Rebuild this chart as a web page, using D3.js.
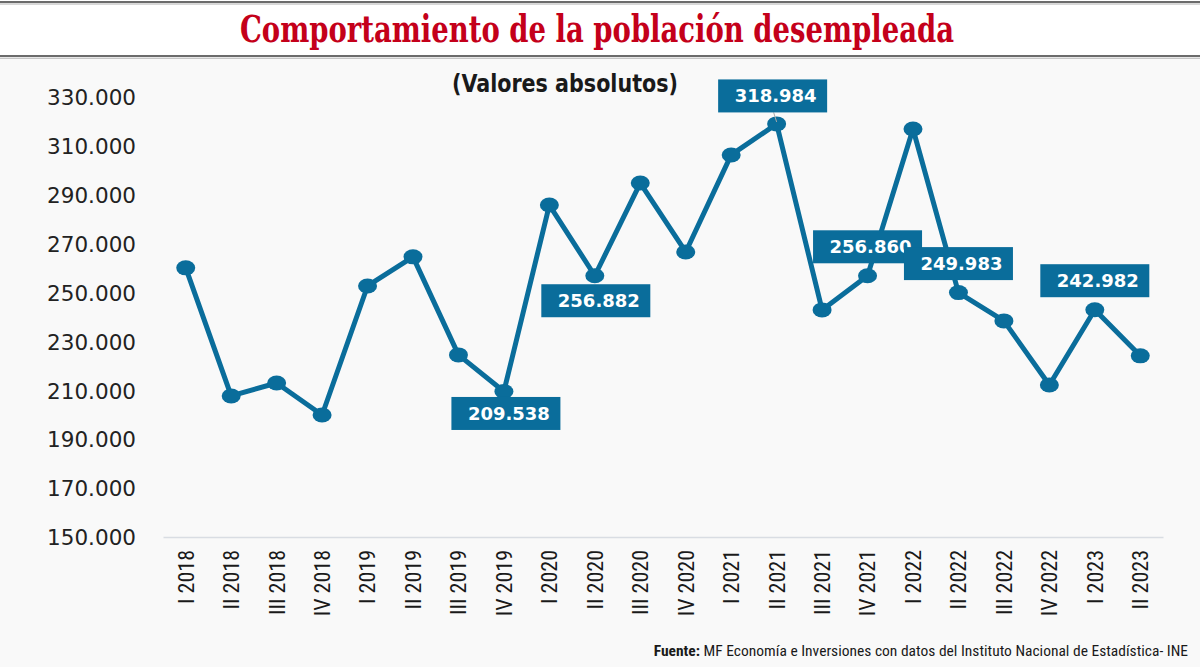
<!DOCTYPE html>
<html>
<head>
<meta charset="utf-8">
<script src="https://cdn.jsdelivr.net/npm/d3@7"></script>
<style>
  html, body { margin: 0; padding: 0; background: #ffffff; }
  svg { display: block; }
</style>
</head>
<body>
<svg id="chart" width="1200" height="667"></svg>
<script>
// ---------- DATA ----------
const categories = [
  "I 2018", "II 2018", "III 2018", "IV 2018",
  "I 2019", "II 2019", "III 2019", "IV 2019",
  "I 2020", "II 2020", "III 2020", "IV 2020",
  "I 2021", "II 2021", "III 2021", "IV 2021",
  "I 2022", "II 2022", "III 2022", "IV 2022",
  "I 2023", "II 2023"
];
const unemployed = [
  260100, 207700, 213000, 199900,
  252700, 264600, 224500, 209538,
  285800, 256882, 294800, 266600,
  306300, 318984, 242900, 256860,
  316900, 249983, 238400, 212200,
  242982, 224100
];
const yTicks = [150000, 170000, 190000, 210000, 230000, 250000, 270000, 290000, 310000, 330000];
const labelledPoints = ["II 2021", "II 2020", "IV 2019", "IV 2021", "II 2022", "I 2023"];

const titleText = "Comportamiento de la población desempleada";
const subtitleText = "(Valores absolutos)";
const sourceBold = "Fuente:";
const sourceText = " MF Economía e Inversiones con datos del Instituto Nacional de Estadística- INE";

// ---------- LAYOUT / STYLE ----------
const W = 1200, H = 667;
const blue = "#0a6d9b";
const fmt = v => d3.format(",")(v).replace(/,/g, ".");

// label placement relative to its point (pixels)
const labelOffsets = {
  "II 2021": { dx: -4, dy: -28, leader: true },
  "II 2020": { dx: 1, dy: 25 },
  "IV 2019": { dx: 2, dy: 22 },
  "IV 2021": { dx: 0, dy: -29 },
  "II 2022": { dx: 0, dy: -29 },
  "I 2023":  { dx: 0, dy: -29 }
};

const svg = d3.select("#chart");

// backgrounds
svg.append("rect").attr("x", 0).attr("y", 0).attr("width", W).attr("height", H).attr("fill", "#f9f9f9");
svg.append("rect").attr("x", 0).attr("y", 0).attr("width", W).attr("height", 58).attr("fill", "#ffffff");
// title band borders (double lines)
[[2, "#3a3a3a", 1.6], [4, "#b0b0b0", 1], [56, "#3a3a3a", 1.6], [58.2, "#b0b0b0", 1]].forEach(([y, c, w]) => {
  svg.append("line").attr("x1", 0).attr("x2", W).attr("y1", y).attr("y2", y)
    .attr("stroke", c).attr("stroke-width", w);
});

// title
svg.append("text")
  .attr("x", 597).attr("y", 42)
  .attr("text-anchor", "middle")
  .attr("font-family", "'DejaVu Serif', serif")
  .attr("font-stretch", "condensed")
  .attr("font-weight", "bold")
  .attr("font-size", 38)
  .attr("fill", "#c4001a")
  .attr("textLength", 714)
  .attr("lengthAdjust", "spacingAndGlyphs")
  .text(titleText);

// subtitle
svg.append("text")
  .attr("x", 565).attr("y", 92)
  .attr("text-anchor", "middle")
  .attr("font-family", "'DejaVu Sans Condensed', 'Open Sans', sans-serif")
  .attr("font-weight", "bold")
  .attr("font-size", 24)
  .attr("fill", "#1a1a1a")
  .attr("textLength", 226)
  .attr("lengthAdjust", "spacingAndGlyphs")
  .text(subtitleText);

// scales
const x = d3.scaleBand().domain(categories).range([163, 1163]).paddingInner(0).paddingOuter(0);
const y = d3.scaleLinear().domain([150000, 330000]).range([537, 97]);
const cx = c => x(c) + x.bandwidth() / 2;

// y axis (labels only)
const yAxis = svg.append("g").attr("transform", "translate(136,0)")
  .call(d3.axisLeft(y).tickValues(yTicks).tickSize(0).tickPadding(0).tickFormat(fmt));
yAxis.select(".domain").remove();
yAxis.selectAll("text")
  .attr("font-family", "'DejaVu Sans', Verdana, sans-serif")
  .attr("font-size", 21.5)
  .attr("fill", "#222222")
  .attr("dy", "0.36em");

// x axis baseline
const xAxis = svg.append("g").attr("transform", "translate(0,537)")
  .call(d3.axisBottom(x).tickSize(0).tickPadding(0));
xAxis.select(".domain").attr("stroke", "#d9dde3").attr("stroke-width", 1.5);
xAxis.selectAll("text")
  .attr("font-family", "'Liberation Sans Narrow', 'Roboto Condensed', 'Arial Narrow', sans-serif")
  .attr("font-size", 22)
  .attr("fill", "#1a1a1a")
  .attr("text-anchor", "end")
  .attr("transform", "translate(0,13) rotate(-90)")
  .attr("x", 0).attr("y", 0).attr("dy", "0.36em");

// line
const pts = categories.map((c, i) => ({ c, v: unemployed[i] }));
svg.append("path")
  .datum(pts)
  .attr("fill", "none")
  .attr("stroke", blue)
  .attr("stroke-width", 5)
  .attr("stroke-linejoin", "round")
  .attr("d", d3.line().x(d => cx(d.c)).y(d => y(d.v)));

// markers
svg.append("g").selectAll("ellipse")
  .data(pts).join("ellipse")
  .attr("cx", d => cx(d.c)).attr("cy", d => y(d.v))
  .attr("rx", 9.5).attr("ry", 7.5)
  .attr("fill", blue);

// labels
const boxW = 109, boxH = 33;
const lg = svg.append("g");
labelledPoints.forEach(c => {
  const i = categories.indexOf(c);
  const v = unemployed[i];
  const o = labelOffsets[c];
  const px = cx(c), py = y(v);
  const bx = px + o.dx, by = py + o.dy;
  if (o.leader) {
    lg.append("line")
      .attr("x1", bx + 1).attr("y1", by + boxH / 2)
      .attr("x2", px).attr("y2", py - 2)
      .attr("stroke", "#a9a9a9").attr("stroke-width", 1);
  }
  lg.append("rect")
    .attr("x", bx - boxW / 2).attr("y", by - boxH / 2)
    .attr("width", boxW).attr("height", boxH)
    .attr("fill", blue);
  lg.append("text")
    .attr("x", bx + 3).attr("y", by)
    .attr("dy", "0.36em")
    .attr("text-anchor", "middle")
    .attr("font-family", "'DejaVu Sans', Verdana, sans-serif")
    .attr("font-weight", "bold")
    .attr("font-size", 18)
    .attr("fill", "#ffffff")
    .text(fmt(v));
});

// source
const src = svg.append("text")
  .attr("x", 1188).attr("y", 656)
  .attr("text-anchor", "end")
  .attr("font-family", "'Liberation Sans Narrow', 'Roboto Condensed', 'Arial Narrow', sans-serif")
  .attr("font-size", 15.5)
  .attr("fill", "#1a1a1a");
src.append("tspan").attr("font-weight", "bold").text(sourceBold);
src.append("tspan").text(sourceText);
</script>
</body>
</html>
